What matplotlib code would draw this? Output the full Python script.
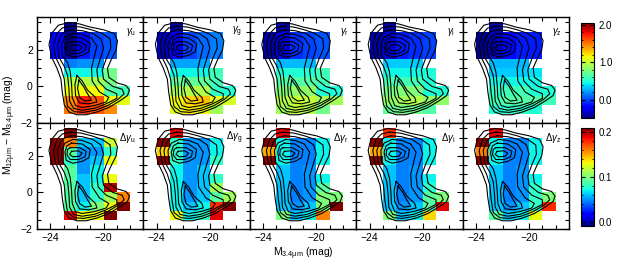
import numpy as np
import matplotlib.pyplot as plt
from matplotlib.cm import ScalarMappable
from matplotlib.colors import Normalize

plt.rcParams['font.family'] = ['Liberation Sans', 'DejaVu Sans']
plt.rcParams['mathtext.fontset'] = 'custom'
plt.rcParams['mathtext.rm'] = 'Liberation Sans'
plt.rcParams['mathtext.it'] = 'Liberation Sans:italic'

n = np.nan

# bin edges (x: M_3.4um, y: colour, listed from top row down)
x_edges = [-24, -23, -22, -21, -20, -19, -18]
y_edges = [3.5, 3.0, 2.5, 2.0, 1.5, 1.0, 0.5, 0.0, -0.5, -1.0, -1.5]

bands = ['u', 'g', 'r', 'i', 'z']

# gamma maps, rows from y=3.5 down to y=-1.5
gamma_u = [[n, -0.45, n, n, n, n],
           [-0.2, -0.45, -0.15, 0.0, 0.05, n],
           [-0.2, -0.45, -0.15, 0.0, 0.05, n],
           [-0.2, -0.4, -0.1, 0.0, 0.05, n],
           [n, 0.15, 0.2, 0.2, n, n],
           [n, 0.45, 0.45, 0.45, 0.75, n],
           [n, 0.95, 0.95, 0.9, 0.75, n],
           [n, 1.15, 1.15, 1.15, 0.65, 0.6],
           [n, 1.45, 1.75, 1.6, 1.15, 1.1],
           [n, 1.5, 1.7, 1.6, 1.45, n]]
gamma_g = [[n, -0.4, n, n, n, n],
           [-0.35, -0.25, 0.0, 0.1, 0.15, n],
           [-0.35, -0.25, 0.0, 0.1, 0.15, n],
           [-0.35, -0.2, 0.0, 0.1, 0.15, n],
           [n, 0.25, 0.25, 0.25, n, n],
           [n, 0.45, 0.45, 0.45, 0.6, n],
           [n, 0.7, 0.7, 0.7, 0.6, n],
           [n, 0.9, 0.95, 0.95, 0.55, 0.5],
           [n, 1.15, 1.25, 1.3, 1.1, 1.05],
           [n, 1.1, 1.2, 1.15, 0.9, n]]
gamma_r = [[n, -0.4, n, n, n, n],
           [-0.4, -0.3, -0.05, 0.0, 0.05, n],
           [-0.4, -0.3, -0.05, 0.0, 0.05, n],
           [-0.4, -0.3, -0.05, 0.0, 0.05, n],
           [n, 0.3, 0.3, 0.3, n, n],
           [n, 0.5, 0.5, 0.5, 0.6, n],
           [n, 0.65, 0.65, 0.65, 0.6, n],
           [n, 0.8, 0.85, 0.85, 0.5, 0.5],
           [n, 0.95, 1.0, 1.0, 0.9, 0.9],
           [n, 0.9, 1.0, 0.95, 0.75, n]]
gamma_i = [[n, -0.4, n, n, n, n],
           [-0.4, -0.3, -0.1, -0.05, 0.0, n],
           [-0.4, -0.3, -0.1, -0.05, 0.0, n],
           [-0.4, -0.3, -0.1, -0.05, 0.0, n],
           [n, 0.35, 0.35, 0.35, n, n],
           [n, 0.45, 0.45, 0.45, 0.5, n],
           [n, 0.6, 0.6, 0.6, 0.5, n],
           [n, 0.75, 0.8, 0.8, 0.5, 0.5],
           [n, 0.85, 0.9, 0.95, 0.85, 0.85],
           [n, 0.7, 0.75, 0.75, 0.65, n]]
gamma_z = [[n, -0.4, n, n, n, n],
           [-0.45, -0.35, -0.15, -0.1, -0.1, n],
           [-0.45, -0.35, -0.15, -0.1, -0.1, n],
           [-0.45, -0.35, -0.15, -0.1, -0.1, n],
           [n, 0.3, 0.3, 0.3, n, n],
           [n, 0.35, 0.35, 0.35, 0.4, n],
           [n, 0.45, 0.45, 0.45, 0.45, n],
           [n, 0.55, 0.6, 0.6, 0.5, 0.5],
           [n, 0.6, 0.65, 0.65, 0.65, 0.6],
           [n, 0.5, 0.55, 0.55, 0.5, n]]

# uncertainty maps
dgamma_u = [[n, 0.21, n, n, n, n],
            [0.21, 0.16, 0.06, 0.06, 0.12, n],
            [0.21, 0.09, 0.05, 0.05, 0.08, n],
            [0.21, 0.08, 0.05, 0.06, 0.13, n],
            [n, 0.09, 0.05, 0.07, n, n],
            [n, 0.09, 0.06, 0.07, 0.13, n],
            [n, 0.09, 0.06, 0.08, 0.2, n],
            [n, 0.09, 0.06, 0.08, 0.11, 0.16],
            [n, 0.09, 0.07, 0.1, 0.13, 0.21],
            [n, 0.19, 0.13, 0.13, 0.21, n]]
dgamma_g = [[n, 0.19, n, n, n, n],
            [0.21, 0.08, 0.05, 0.05, 0.07, n],
            [0.14, 0.08, 0.05, 0.05, 0.07, n],
            [0.21, 0.08, 0.05, 0.05, 0.08, n],
            [n, 0.07, 0.05, 0.06, n, n],
            [n, 0.07, 0.05, 0.06, 0.08, n],
            [n, 0.07, 0.05, 0.06, 0.11, n],
            [n, 0.07, 0.05, 0.06, 0.09, 0.11],
            [n, 0.07, 0.06, 0.07, 0.18, 0.21],
            [n, 0.13, 0.07, 0.08, 0.19, n]]
dgamma_r = [[n, 0.19, n, n, n, n],
            [0.21, 0.07, 0.045, 0.045, 0.07, n],
            [0.15, 0.07, 0.045, 0.045, 0.07, n],
            [0.21, 0.07, 0.045, 0.045, 0.07, n],
            [n, 0.06, 0.045, 0.05, n, n],
            [n, 0.06, 0.045, 0.05, 0.07, n],
            [n, 0.06, 0.045, 0.05, 0.09, n],
            [n, 0.06, 0.045, 0.05, 0.1, 0.1],
            [n, 0.06, 0.05, 0.06, 0.1, 0.21],
            [n, 0.1, 0.06, 0.07, 0.16, n]]
dgamma_i = [[n, 0.18, n, n, n, n],
            [0.21, 0.07, 0.045, 0.045, 0.07, n],
            [0.15, 0.07, 0.045, 0.045, 0.07, n],
            [0.21, 0.07, 0.045, 0.045, 0.07, n],
            [n, 0.06, 0.045, 0.05, n, n],
            [n, 0.06, 0.045, 0.05, 0.07, n],
            [n, 0.06, 0.045, 0.05, 0.08, n],
            [n, 0.06, 0.045, 0.05, 0.09, 0.1],
            [n, 0.06, 0.05, 0.06, 0.09, 0.19],
            [n, 0.1, 0.06, 0.07, 0.14, n]]
dgamma_z = [[n, 0.19, n, n, n, n],
            [0.21, 0.07, 0.045, 0.045, 0.07, n],
            [0.16, 0.07, 0.045, 0.045, 0.07, n],
            [0.21, 0.07, 0.045, 0.045, 0.07, n],
            [n, 0.06, 0.045, 0.05, n, n],
            [n, 0.06, 0.045, 0.05, 0.07, n],
            [n, 0.06, 0.045, 0.05, 0.08, n],
            [n, 0.06, 0.045, 0.05, 0.08, 0.1],
            [n, 0.06, 0.05, 0.06, 0.08, 0.18],
            [n, 0.09, 0.06, 0.07, 0.13, n]]

gamma_maps = [gamma_u, gamma_g, gamma_r, gamma_i, gamma_z]
dgamma_maps = [dgamma_u, dgamma_g, dgamma_r, dgamma_i, dgamma_z]

# number-density contours (outer to inner)
level1 = [(-22.6, 3.5), (-21.8, 3.42), (-21.0, 3.25), (-20.0, 3.1), (-19.2, 2.9),
          (-18.95, 2.5), (-19.05, 2.0), (-19.4, 1.5), (-19.7, 1.0), (-19.6, 0.5),
          (-19.0, 0.2), (-18.3, 0.05), (-18.05, -0.2), (-18.2, -0.5), (-18.8, -0.8),
          (-19.6, -1.15), (-20.5, -1.4), (-21.3, -1.55), (-22.0, -1.55), (-22.6, -1.4),
          (-22.95, -1.0), (-23.1, -0.3), (-23.2, 0.4), (-23.5, 1.0), (-23.9, 1.6),
          (-24.1, 2.3), (-23.9, 2.9), (-23.4, 3.35)]
level2 = [(-22.5, 3.3), (-21.7, 3.25), (-20.9, 3.1), (-20.1, 2.9), (-19.5, 2.6),
          (-19.45, 2.1), (-19.8, 1.5), (-20.1, 0.9), (-20.0, 0.4), (-19.3, 0.0),
          (-18.6, -0.15), (-18.45, -0.4), (-18.9, -0.7), (-19.7, -1.05), (-20.6, -1.3),
          (-21.5, -1.42), (-22.2, -1.38), (-22.7, -1.1), (-22.85, -0.4), (-22.95, 0.4),
          (-23.2, 1.0), (-23.6, 1.6), (-23.75, 2.3), (-23.5, 2.9), (-23.1, 3.2)]
level3 = [(-22.4, 3.1), (-21.6, 3.05), (-20.8, 2.9), (-20.2, 2.6), (-20.0, 2.1),
          (-20.25, 1.5), (-20.5, 0.9), (-20.4, 0.3), (-19.8, -0.15), (-19.0, -0.4),
          (-19.0, -0.65), (-19.8, -0.95), (-20.7, -1.2), (-21.6, -1.3), (-22.25, -1.2),
          (-22.55, -0.8), (-22.6, -0.1), (-22.7, 0.6), (-22.95, 1.1), (-23.35, 1.6),
          (-23.45, 2.3), (-23.2, 2.8), (-22.9, 3.0)]
level4 = [(-22.3, 2.9), (-21.6, 2.85), (-20.9, 2.65), (-20.5, 2.2), (-20.7, 1.6),
          (-20.9, 1.0), (-20.85, 0.3), (-20.3, -0.3), (-19.6, -0.6), (-19.8, -0.85),
          (-20.7, -1.05), (-21.6, -1.15), (-22.1, -1.05), (-22.35, -0.6), (-22.4, 0.1),
          (-22.5, 0.8), (-22.7, 1.3), (-23.1, 1.7), (-23.15, 2.3), (-22.9, 2.7)]
level5a = [(-22.4, 2.7), (-21.6, 2.65), (-21.0, 2.35), (-21.1, 1.9), (-21.6, 1.7),
           (-22.3, 1.6), (-22.8, 1.75), (-22.9, 2.2), (-22.75, 2.55)]
level5b = [(-22.0, 0.6), (-21.6, 0.3), (-21.2, -0.2), (-20.6, -0.6), (-20.5, -0.85),
           (-21.1, -0.95), (-21.8, -0.9), (-22.1, -0.5), (-22.15, 0.1)]
level6a = [(-22.5, 2.45), (-21.8, 2.45), (-21.3, 2.25), (-21.4, 1.95), (-21.9, 1.8),
           (-22.5, 1.8), (-22.75, 2.05), (-22.7, 2.35)]
level6b = [(-21.85, 0.35), (-21.5, 0.0), (-21.2, -0.4), (-20.9, -0.75), (-21.4, -0.8),
           (-21.8, -0.6), (-21.95, -0.1)]
level7 = [(-22.4, 2.25), (-21.9, 2.28), (-21.6, 2.15), (-21.8, 1.98), (-22.3, 1.95),
          (-22.55, 2.08)]
contours = [level1, level2, level3, level4, level5a, level5b, level6a, level6b, level7]

cmap = plt.get_cmap('jet')
norm_top = Normalize(vmin=-0.48, vmax=2.05)
norm_bot = Normalize(vmin=-0.01, vmax=0.21)

fig = plt.figure(figsize=(6.18, 2.68), dpi=100)
W, H = 618, 268
left0, pw, ph = 37, 106.4, 106
rows_top = [17, 123]

for r, (maps, norm, prefix) in enumerate([(gamma_maps, norm_top, r'$\gamma$'),
                                          (dgamma_maps, norm_bot, r'$\Delta\gamma$')]):
    for c in range(5):
        ax = fig.add_axes([(left0 + c * pw) / W, 1 - (rows_top[r] + ph) / H, pw / W, ph / H])
        ax.pcolormesh(x_edges, y_edges, np.array(maps[c]), cmap=cmap, norm=norm)
        for path in contours:
            px = [p[0] for p in path] + [path[0][0]]
            py = [p[1] for p in path] + [path[0][1]]
            ax.plot(px, py, color='black', lw=0.8, solid_joinstyle='round')
        ax.set_xlim(-25, -17)
        ax.set_ylim(-2, 3.8)
        ax.set_xticks([-24, -20])
        ax.set_xticks(np.arange(-25, -16), minor=True)
        ax.set_yticks([-2, 0, 2])
        ax.set_yticks(np.arange(-2, 4, 0.5), minor=True)
        ax.tick_params(which='both', direction='in', top=True, right=True,
                       labelsize=7.5, pad=3, width=0.8)
        ax.tick_params(which='major', length=4.5)
        ax.tick_params(which='minor', length=3)
        if r == 0:
            ax.set_xticklabels([])
        if c > 0:
            ax.set_yticklabels([])
        for s in ax.spines.values():
            s.set_linewidth(1.0)
        ax.text(0.93, 0.86, prefix + r'$_{\rm ' + bands[c] + '}$', transform=ax.transAxes,
                ha='right', va='center', fontsize=7)

# colour bars
for norm, top, bot, ticks in [(norm_top, 23, 118, [0, 1, 2]), (norm_bot, 128, 226, [0, 0.1, 0.2])]:
    cax = fig.add_axes([581 / W, 1 - bot / H, 13 / W, (bot - top) / H])
    cb = fig.colorbar(ScalarMappable(norm=norm, cmap=cmap), cax=cax, ticks=ticks, format='%.1f')
    cb.ax.tick_params(direction='in', left=True, right=True, labelsize=7, length=3, width=0.8)
    cb.ax.minorticks_on()
    cb.ax.tick_params(which='minor', direction='in', left=True, right=True, length=1.5)
    cb.outline.set_linewidth(0.8)

fig.text(303 / W, 1 - 254 / H, r'M$_{\rm 3.4\mu m}$ (mag)', ha='center', va='center', fontsize=7.5)
fig.text(10 / W, 1 - 125 / H, r'M$_{\rm 12\mu m}$ $-$ M$_{\rm 3.4\mu m}$ (mag)', ha='center',
         va='center', rotation=90, fontsize=7.5)

fig.savefig('out.png', dpi=100)
